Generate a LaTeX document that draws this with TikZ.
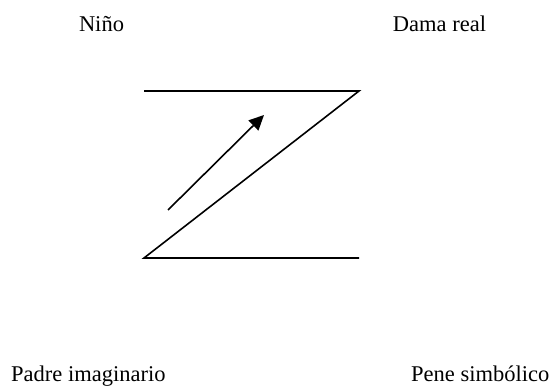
\documentclass[tikz,border=0pt]{standalone}
\usepackage{fontspec}
\setmainfont{Liberation Serif}
\usetikzlibrary{arrows.meta}
\tikzset{
  lbl/.style={inner sep=0pt, font=\fontsize{22.5}{27}\selectfont},
  zline/.style={line width=1.6pt, line cap=butt},
  zarrow/.style={line width=1.6pt, -{Triangle[length=15pt,width=14pt]}}
}
\begin{document}
\begin{tikzpicture}[x=1pt,y=-1pt]
\useasboundingbox (0,0) rectangle (560,387);
\node[lbl, anchor=base] (nino) at (101.5,32) {Niño};
\node[lbl, anchor=base] (dama) at (439.5,32) {Dama real};
\node[lbl, anchor=base west] (padre) at (11,382) {Padre imaginario};
\node[lbl, anchor=base west] (pene) at (411,382) {Pene simbólico};
\coordinate (tl) at (144,91);
\coordinate (tr) at (359,91);
\coordinate (bl) at (144,258);
\coordinate (br) at (359,258);
\coordinate (atail) at (168,210);
\coordinate (atip) at (264,115);
\draw[zline] (tl) -- (tr) -- (bl) -- (br);
\draw[zarrow] (atail) -- (atip);
\end{tikzpicture}
\end{document}
